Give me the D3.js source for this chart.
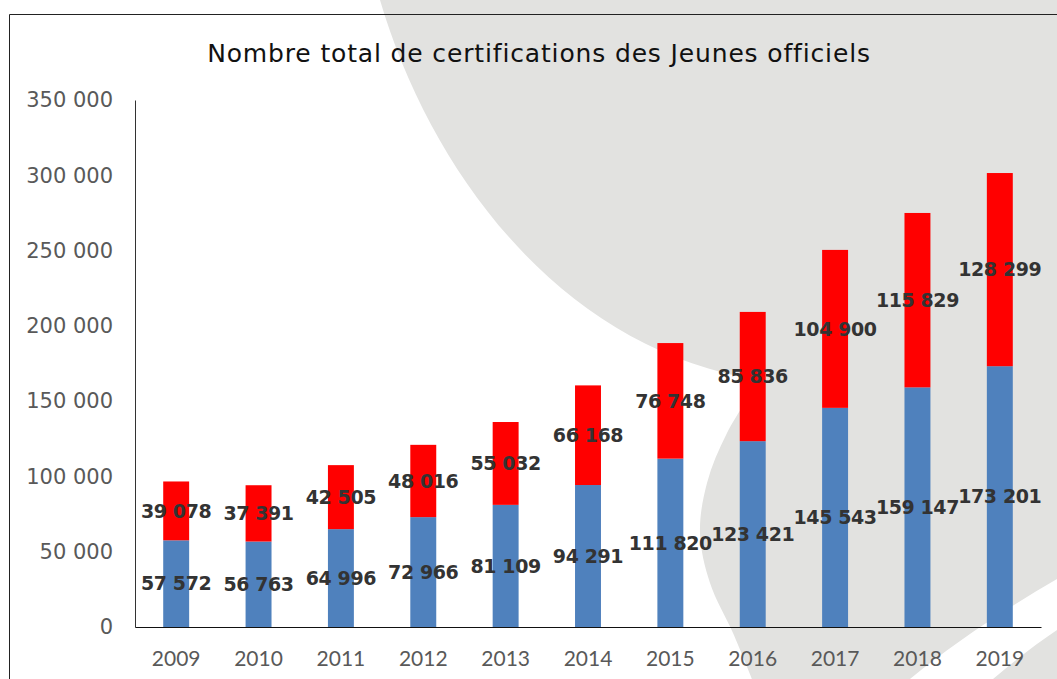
<!DOCTYPE html>
<html>
<head>
<meta charset="utf-8">
<script src="https://cdn.jsdelivr.net/npm/d3@7"></script>
<style>
  body { margin: 0; background: #fff; }
  svg { display: block; }
</style>
</head>
<body>
<div id="chart"></div>
<script>
// data
var years = ["2009", "2010", "2011", "2012", "2013", "2014", "2015", "2016", "2017", "2018", "2019"];
var blueValues = [57572, 56763, 64996, 72966, 81109, 94291, 111820, 123421, 145543, 159147, 173201];
var redValues = [39078, 37391, 42505, 48016, 55032, 66168, 76748, 85836, 104900, 115829, 128299];
var yTicks = [0, 50000, 100000, 150000, 200000, 250000, 300000, 350000];

var svgWidth = 1057;
var svgHeight = 679;

var margin = { top: 100, right: 16, bottom: 52, left: 135 };
var width = svgWidth - margin.left - margin.right;
var height = svgHeight - margin.top - margin.bottom;

var verdana = "'DejaVu Sans'";

var svg = d3.select("#chart")
  .append("svg")
  .attr("width", svgWidth)
  .attr("height", svgHeight);

// background shapes (slide decoration)
var grey = "#e2e2e0";
var edgeB = [[760, 380], [727, 433], [707, 483], [700, 533], [710, 583], [733, 633], [752, 679]];
var curve = d3.line().curve(d3.curveCatmullRom);
svg.append("path")
  .attr("fill", grey)
  .attr("d", "M380,0 C430,170 560,350 760,380" + curve(edgeB).replace("M", "L") + "L1057,679L1057,0Z");
svg.append("path")
  .attr("fill", "#fff")
  .attr("d", "M1057,579 C1000,612 950,646 910,679 L993,679 C1015,660 1035,645 1057,630 Z");

// frame lines
svg.append("line")
  .attr("x1", 9.5).attr("y1", 14.5).attr("x2", 9.5).attr("y2", svgHeight)
  .attr("stroke", "#222").attr("stroke-width", 1);
svg.append("line")
  .attr("x1", 9.5).attr("y1", 14.5).attr("x2", svgWidth).attr("y2", 14.5)
  .attr("stroke", "#222").attr("stroke-width", 1);

// title
svg.append("text")
  .attr("x", 539)
  .attr("y", 62)
  .attr("text-anchor", "middle")
  .style("font-family", verdana)
  .style("font-size", "25px")
  .style("letter-spacing", "0.85px")
  .attr("fill", "#111")
  .text("Nombre total de certifications des Jeunes officiels");

var chartGroup = svg.append("g")
  .attr("transform", `translate(${margin.left}, ${margin.top})`);

// scales
var xScale = d3.scaleBand()
  .domain(years)
  .range([0, width])
  .paddingInner(0.685)
  .paddingOuter(0.3425);

var yScale = d3.scaleLinear()
  .domain([0, 350000])
  .range([height, 0]);

var fmt = function(v) {
  return d3.format(",")(v).replace(/,/g, " ");
};

// stacked bars
var stackData = years.map(function(y, i) {
  return { year: y, blue: blueValues[i], red: redValues[i] };
});
var series = d3.stack().keys(["blue", "red"])(stackData);
var colors = { blue: "#4f81bd", red: "#ff0000" };

chartGroup.selectAll("g.series")
  .data(series)
  .enter()
  .append("g")
  .attr("class", "series")
  .attr("fill", d => colors[d.key])
  .selectAll("rect")
  .data(d => d)
  .enter()
  .append("rect")
  .attr("x", d => xScale(d.data.year))
  .attr("y", d => yScale(d[1]))
  .attr("width", xScale.bandwidth())
  .attr("height", d => yScale(d[0]) - yScale(d[1]));

// axes
var leftAxis = d3.axisLeft(yScale)
  .tickValues(yTicks)
  .tickSize(0)
  .tickPadding(22)
  .tickFormat(fmt);

var bottomAxis = d3.axisBottom(xScale)
  .tickSize(0)
  .tickPadding(24);

var yAxis = chartGroup.append("g").call(leftAxis);
yAxis.select(".domain").attr("stroke", "#333");
yAxis.selectAll("text")
  .style("font-family", verdana)
  .style("font-size", "21px")
  .attr("fill", "#595959");

var xAxis = chartGroup.append("g")
  .attr("transform", `translate(0, ${height})`)
  .call(bottomAxis);
xAxis.select(".domain").attr("stroke", "#111");
xAxis.selectAll("text")
  .style("font-family", "Lato")
  .style("font-size", "21px")
  .attr("fill", "#595959");

// data labels
series.forEach(function(s) {
  chartGroup.append("g")
    .selectAll("text")
    .data(s)
    .enter()
    .append("text")
    .attr("x", d => xScale(d.data.year) + xScale.bandwidth() / 2)
    .attr("y", d => (yScale(d[0]) + yScale(d[1])) / 2)
    .attr("dy", "0.36em")
    .attr("text-anchor", "middle")
    .style("font-family", verdana)
    .style("font-weight", "bold")
    .style("font-size", "19px")
    .style("letter-spacing", "-0.4px")
    .attr("fill", "#333")
    .text(d => fmt(d.data[s.key]));
});
</script>
</body>
</html>
